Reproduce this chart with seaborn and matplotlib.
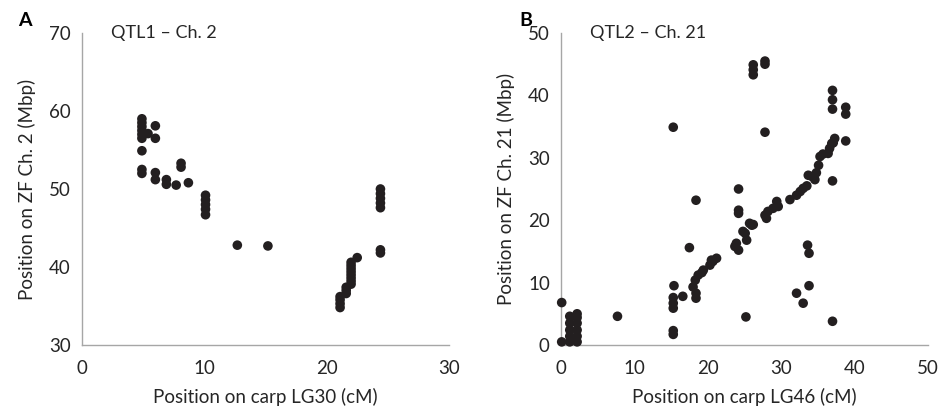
import matplotlib
matplotlib.use("Agg")
import matplotlib.pyplot as plt
import seaborn as sns
import pandas as pd

sns.set_style("white")
plt.rcParams["font.family"] = ["Lato", "DejaVu Sans"]

# Panel A: QTL1 - carp LG30 vs zebrafish Ch. 2
a_x = [4.9, 4.9, 4.9, 4.9, 4.9, 4.9, 4.9, 4.9, 4.9, 5.4,
       6.0, 6.0, 6.0, 6.0, 6.9, 6.9, 7.7, 8.1, 8.1, 8.7,
       10.1, 10.1, 10.1, 10.1, 10.1, 12.7, 15.2,
       21.1, 21.1, 21.1, 21.1, 21.6, 21.6, 21.6,
       22.0, 22.0, 22.0, 22.0, 22.0, 22.0, 22.0, 22.0, 22.5,
       24.4, 24.4, 24.4, 24.4, 24.4, 24.4, 24.4]
a_y = [52.0, 52.5, 54.9, 56.5, 57.0, 57.5, 58.0, 58.5, 59.0, 57.1,
       58.1, 56.5, 52.1, 51.2, 51.2, 50.6, 50.5, 53.3, 52.8, 50.8,
       49.2, 48.6, 48.0, 47.4, 46.7, 42.8, 42.7,
       34.8, 35.3, 35.8, 36.2, 36.6, 37.0, 37.4,
       37.8, 38.2, 38.6, 39.0, 39.4, 39.8, 40.2, 40.6, 41.2,
       47.6, 48.2, 48.8, 49.4, 50.0, 41.8, 42.2]

# Panel B: QTL2 - carp LG46 vs zebrafish Ch. 21
b_x = [0.1, 0.1, 1.2, 1.2, 1.2, 1.2, 1.2, 2.2, 2.2, 2.2, 2.2, 2.2, 2.2, 7.7,
       15.3, 15.4, 15.3, 15.3, 15.3, 15.3, 15.3, 16.6, 17.5, 18.4, 18.4, 18.4,
       18.0, 18.3, 18.7, 19.2, 19.4, 20.3, 20.5, 20.7, 21.2, 23.7, 23.9, 24.2,
       24.8, 25.1, 25.3, 25.7, 26.0, 26.2, 27.8, 28.0, 28.2, 28.9, 29.4, 29.6,
       31.2, 32.1, 32.6, 33.0, 33.5, 33.7, 34.2, 34.6, 34.8, 35.1, 35.3, 35.7,
       36.4, 36.6, 36.9, 37.3, 37.1,
       24.2, 24.2, 24.2, 25.2, 26.2, 26.2, 26.2, 27.8, 27.8, 27.8,
       37.0, 37.0, 37.0, 38.8, 38.8, 38.8, 37.0, 37.0,
       32.1, 33.0, 33.8, 33.6, 33.8]
b_y = [6.8, 0.5, 4.6, 3.5, 2.4, 1.4, 0.5, 5.0, 4.4, 3.5, 2.4, 1.4, 0.5, 4.6,
       34.9, 9.5, 7.6, 6.7, 5.9, 2.3, 1.7, 7.8, 15.6, 23.2, 8.3, 7.5,
       9.3, 10.4, 11.2, 11.6, 12.0, 12.8, 13.6, 13.4, 13.9, 15.8, 16.3, 15.2,
       18.2, 17.9, 16.8, 19.5, 19.2, 19.3, 20.8, 20.3, 21.4, 21.9, 23.0, 22.2,
       23.3, 24.0, 24.6, 25.1, 25.5, 27.2, 27.0, 26.5, 27.6, 28.8, 30.2, 30.6,
       30.7, 31.5, 32.3, 33.1, 32.4,
       25.0, 21.6, 21.1, 4.5, 44.9, 44.1, 43.3, 45.0, 45.5, 34.1,
       40.8, 39.3, 37.8, 38.1, 37.0, 32.7, 26.3, 3.8,
       8.3, 6.7, 9.5, 16.0, 14.7]

dfa = pd.DataFrame({"carp": a_x, "zf": a_y})
dfb = pd.DataFrame({"carp": b_x, "zf": b_y})

dot = "#231f20"
grey = "#a6a6a6"
txt = "#262626"

fig = plt.figure(figsize=(9.39, 4.16), dpi=100)
axA = fig.add_axes([0.0873, 0.1707, 0.3908, 0.75])
axB = fig.add_axes([0.5974, 0.1707, 0.3908, 0.75])

panels = [
    (axA, dfa, (0, 30), (30, 70), "Position on carp LG30 (cM)",
     "Position on ZF Ch. 2 (Mbp)", "QTL1 \u2013 Ch. 2", "A"),
    (axB, dfb, (0, 50), (0, 50), "Position on carp LG46 (cM)",
     "Position on ZF Ch. 21 (Mbp)", "QTL2 \u2013 Ch. 21", "B"),
]

for ax, df, xl, yl, xlab, ylab, title, letter in panels:
    sns.scatterplot(data=df, x="carp", y="zf", ax=ax, color=dot, s=48,
                    edgecolor="none", clip_on=False, zorder=3)
    ax.set_xlim(*xl)
    ax.set_ylim(*yl)
    ax.set_xticks(range(xl[0], xl[1] + 1, 10))
    ax.set_yticks(range(yl[0], yl[1] + 1, 10))
    ax.set_xlabel(xlab, fontsize=13.5, color=txt, labelpad=8)
    ax.set_ylabel(ylab, fontsize=13.5, color=txt, labelpad=9)
    ax.tick_params(axis="both", direction="out", length=4, width=1,
                   color=grey, labelsize=13.5, labelcolor=txt, pad=4)
    ax.tick_params(axis="x", pad=7)
    sns.despine(ax=ax)
    for side in ["left", "bottom"]:
        ax.spines[side].set_color(grey)
        ax.spines[side].set_linewidth(1)
    ax.text(0.08, 1.0, title, transform=ax.transAxes, fontsize=13,
            color=txt, va="center", ha="left")

fig.text(0.019, 0.95, "A", fontsize=14, fontweight="bold", color="black",
         va="center")
fig.text(0.553, 0.95, "B", fontsize=14, fontweight="bold", color="black",
         va="center")

fig.savefig("out.png", dpi=100)
